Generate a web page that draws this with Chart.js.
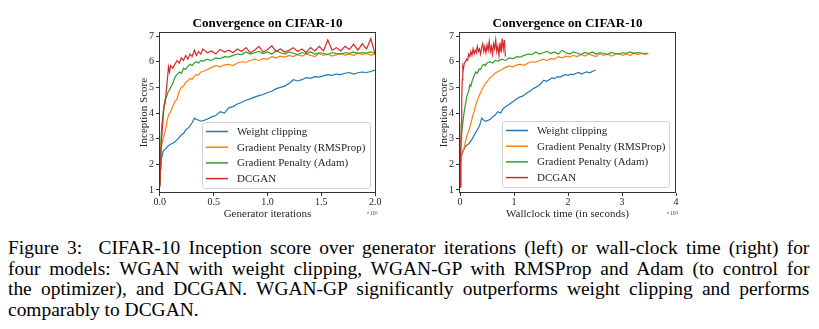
<!DOCTYPE html>
<html><head><meta charset="utf-8">
<script src="https://cdn.jsdelivr.net/npm/chart.js@4.4.1/dist/chart.umd.min.js"></script>
<style>
html,body{margin:0;padding:0;background:#fff;}
#wrap{position:relative;width:819px;height:329px;overflow:hidden;background:#fff;}
canvas{position:absolute;top:0;}
#c1{left:110px;} #c2{left:410px;}
#cap{position:absolute;left:8px;top:237.8px;width:742px;transform:scaleX(1.08);transform-origin:0 0;font-family:"Liberation Serif","Times New Roman",serif;font-size:18px;line-height:20.8px;color:#000;}
#cap div{text-align:justify;text-align-last:justify;white-space:nowrap;}
#cap div.last{text-align-last:left;}
</style>
</head><body>
<div id="wrap">
<canvas id="c1" width="290" height="228" style="width:290px;height:228px"></canvas>
<canvas id="c2" width="290" height="228" style="width:290px;height:228px"></canvas>
<div id="cap">
<div>Figure 3:&nbsp; CIFAR-10 Inception score over generator iterations (left) or wall-clock time (right) for</div>
<div>four models: WGAN with weight clipping, WGAN-GP with RMSProp and Adam (to control for</div>
<div>the optimizer), and DCGAN. WGAN-GP significantly outperforms weight clipping and performs</div>
<div class="last">comparably to DCGAN.</div>
</div>
</div>
<script>
// ---------- DATA ----------
const chartTitle = "Convergence on CIFAR-10";
const seriesNames = ["Weight clipping", "Gradient Penalty (RMSProp)", "Gradient Penalty (Adam)", "DCGAN"];
const seriesColors = ["#1f77b4", "#ff7f0e", "#2ca02c", "#d62728"];
const yTicks = [1, 2, 3, 4, 5, 6, 7];
const xTicksLeft = [0, 0.5, 1.0, 1.5, 2.0];
const xTicksRight = [0, 1, 2, 3, 4];

// Left: generator iterations (x1e5)
const iterations = [0,0.005,0.01,0.02,0.03,0.04,0.05,0.06,0.07,0.08,0.09,0.10,0.12,0.14,0.16,0.18,0.20,0.22,0.24,0.26,0.28,0.30,0.32,0.34,0.36,0.38,0.40,
0.44,0.48,0.52,0.56,0.60,0.64,0.68,0.72,0.76,0.80,0.84,0.88,0.92,0.96,1.00,1.04,1.08,1.12,1.16,1.20,1.24,1.28,1.32,1.36,1.40,1.44,1.48,1.52,1.56,1.60,1.64,1.68,1.72,1.76,1.80,1.84,1.88,1.92,1.96,2.00];
const clipIter = [1.15,1.8,2.15,2.3,2.5,2.55,2.6,2.62,2.7,2.72,2.75,2.78,2.82,2.88,2.95,3.05,3.15,3.2,3.35,3.4,3.5,3.62,3.8,3.75,3.72,3.68,3.7,
3.76,3.85,3.9,4.05,4.0,4.2,4.25,4.35,4.42,4.5,4.55,4.62,4.68,4.72,4.8,4.85,4.95,5.0,5.05,5.15,5.3,5.25,5.3,5.38,5.35,5.42,5.4,5.45,5.5,5.47,5.52,5.5,5.55,5.58,5.52,5.57,5.6,5.58,5.62,5.68];
const rmspIter = [1.2,2.2,2.5,2.8,3.0,3.15,3.3,3.5,3.75,3.9,4.0,4.05,4.25,4.45,4.55,4.85,5.0,5.05,5.2,5.25,5.35,5.32,5.45,5.5,5.48,5.6,5.62,
5.7,5.78,5.85,5.8,5.88,5.9,5.85,5.95,6.0,5.98,6.05,6.1,6.05,6.12,6.1,6.2,6.15,6.22,6.18,6.25,6.2,6.28,6.22,6.3,6.25,6.2,6.32,6.25,6.3,6.22,6.28,6.33,6.25,6.3,6.24,6.35,6.28,6.32,6.26,6.3];
const adamIter = [1.2,2.5,3.0,3.6,4.0,4.3,4.55,4.6,4.75,4.85,4.9,5.0,5.15,5.4,5.5,5.6,5.55,5.75,5.7,5.82,5.9,5.85,5.95,6.0,5.95,6.05,6.02,
6.1,6.05,6.15,6.12,6.2,6.18,6.25,6.3,6.28,6.38,6.3,6.35,6.4,6.32,6.38,6.3,6.42,6.35,6.3,6.38,6.33,6.28,6.36,6.32,6.38,6.3,6.35,6.33,6.28,6.36,6.32,6.3,6.35,6.33,6.38,6.32,6.36,6.34,6.38,6.32];
const dcganIter = [1.1,2.0,2.6,3.2,3.8,4.3,4.4,4.9,5.3,5.8,5.6,5.85,5.75,5.9,6.05,5.95,6.15,6.05,6.25,6.1,6.3,6.2,6.45,6.25,6.4,6.3,6.5,
6.35,6.42,6.3,6.48,6.38,6.45,6.35,6.5,6.4,6.55,6.35,6.45,6.6,6.38,6.48,6.62,6.4,6.5,6.38,6.45,6.55,6.4,6.5,6.36,6.55,6.42,6.6,6.42,6.85,6.45,6.55,6.42,6.6,6.48,6.68,6.45,6.7,6.5,6.9,6.3];

// Right: wallclock time (x1e4 seconds)
const wallClip = [0,0.01,0.02,0.04,0.06,0.08,0.1,0.13,0.16,0.2,0.24,0.28,0.32,0.36,0.4,0.44,0.48,0.52,0.56,0.6,0.65,0.7,0.75,0.8,0.85,0.9,0.95,1.0,1.05,1.1,1.15,1.2,1.25,1.3,1.35,1.4,1.45,1.5,1.55,1.6,1.65,1.7,1.75,1.8,1.85,1.9,1.95,2.0,2.05,2.1,2.15,2.2,2.25,2.3,2.35,2.4,2.45,2.51];
const clipWall = [1.15,2.0,2.3,2.45,2.55,2.6,2.7,2.75,2.8,2.9,3.05,3.2,3.35,3.5,3.8,3.72,3.68,3.72,3.75,3.85,3.92,4.05,4.0,4.18,4.25,4.32,4.4,4.48,4.55,4.62,4.65,4.72,4.8,4.86,4.95,5.0,5.06,5.15,5.28,5.24,5.3,5.37,5.34,5.42,5.4,5.45,5.5,5.46,5.52,5.5,5.55,5.58,5.52,5.57,5.6,5.57,5.62,5.68];
const wallRmsp = [0,0.01,0.02,0.04,0.06,0.08,0.1,0.12,0.14,0.16,0.18,0.2,0.23,0.26,0.29,0.32,0.35,0.38,0.41,0.44,0.47,0.5,0.55,0.6,0.65,0.7,
0.77,0.84,0.91,0.98,1.05,1.12,1.19,1.26,1.33,1.4,1.47,1.54,1.61,1.68,1.75,1.82,1.89,1.96,2.03,2.1,2.17,2.24,2.31,2.38,2.45,2.52,2.59,2.66,2.73,2.8,2.87,2.94,3.01,3.08,3.15,3.22,3.29,3.36,3.45];
const rmspWall = [1.2,2.1,2.3,2.4,2.5,2.7,2.9,3.05,3.2,3.3,3.45,3.6,3.85,4.05,4.3,4.5,4.65,4.8,4.95,5.05,5.15,5.22,5.36,5.45,5.55,5.62,
5.7,5.78,5.84,5.8,5.88,5.9,5.86,5.95,6.0,5.98,6.05,6.1,6.05,6.12,6.1,6.2,6.15,6.22,6.18,6.25,6.2,6.28,6.22,6.3,6.25,6.2,6.32,6.25,6.3,6.22,6.28,6.33,6.25,6.3,6.24,6.35,6.28,6.32,6.27];
const wallAdam = [0,0.01,0.02,0.04,0.06,0.08,0.1,0.12,0.14,0.16,0.18,0.2,0.23,0.26,0.29,0.32,0.35,0.38,0.41,0.44,0.47,0.5,0.55,0.6,0.65,0.7,
0.77,0.84,0.91,0.98,1.05,1.12,1.19,1.26,1.33,1.4,1.47,1.54,1.61,1.68,1.75,1.82,1.89,1.96,2.03,2.1,2.17,2.24,2.31,2.38,2.45,2.52,2.59,2.66,2.73,2.8,2.87,2.94,3.01,3.08,3.15,3.22,3.29,3.36,3.49];
const adamWall = [1.2,2.4,2.9,3.4,3.8,4.1,4.35,4.6,4.75,4.85,5.1,5.05,5.3,5.45,5.6,5.55,5.72,5.7,5.85,5.9,5.85,5.95,6.0,5.95,6.05,6.02,
6.1,6.05,6.15,6.12,6.2,6.18,6.25,6.3,6.28,6.38,6.3,6.35,6.4,6.32,6.38,6.3,6.45,6.35,6.3,6.38,6.33,6.28,6.36,6.32,6.38,6.3,6.35,6.33,6.28,6.36,6.32,6.3,6.35,6.33,6.38,6.32,6.36,6.34,6.32];
const wallDcgan = [0,0.01,0.02,0.03,0.04,0.05,0.06,0.08,0.1,0.12,0.14,0.16,0.18,0.2,0.22,0.24,0.26,0.28,0.3,0.32,0.34,0.36,0.38,0.4,0.42,0.44,0.46,0.48,0.5,0.52,0.54,0.56,0.58,0.6,0.62,0.64,0.66,0.68,0.7,0.72,0.74,0.76,0.78,0.8,0.82,0.84];
const dcganWall = [1.1,2.2,3.6,4.5,5.3,5.8,5.7,5.95,6.0,6.1,6.05,6.3,6.2,6.4,6.25,6.5,6.3,6.45,6.35,6.6,6.4,6.5,6.3,6.55,6.7,6.4,6.6,6.35,6.65,6.45,6.8,6.4,6.6,6.3,6.7,6.5,6.85,6.4,6.6,6.25,6.75,6.35,6.9,6.5,6.85,6.2];

// ---------- CHART ----------
const SERIF = "'Liberation Serif','Times New Roman',serif";
const TXT = "#262626";

const framePlugin = {
  id: 'frameLegend',
  afterDraw(chart, args, o) {
    const {ctx, chartArea: a} = chart;
    ctx.save();
    // title centred over the plot area
    ctx.font = "bold 13px " + SERIF;
    ctx.fillStyle = "#000";
    ctx.textAlign = "center";
    ctx.textBaseline = "middle";
    ctx.fillText(o.title, (a.left + a.right) / 2, 24);
    // frame (all four spines)
    ctx.strokeStyle = "#333";
    ctx.lineWidth = 1;
    ctx.strokeRect(Math.round(a.left) + 0.5, Math.round(a.top) + 0.5, Math.round(a.right - a.left) - 1, Math.round(a.bottom - a.top) - 1);
    // legend box
    const w = o.width, h = 66;
    const x = a.right - o.marginRight - w, y = a.bottom - o.marginBottom - h;
    ctx.beginPath();
    if (ctx.roundRect) ctx.roundRect(x + 0.5, y + 0.5, w, h, 3); else ctx.rect(x + 0.5, y + 0.5, w, h);
    ctx.fillStyle = "rgba(255,255,255,0.85)";
    ctx.fill();
    ctx.strokeStyle = "#d0d0d0";
    ctx.lineWidth = 1;
    ctx.stroke();
    ctx.font = "11px " + SERIF;
    ctx.textBaseline = "middle";
    ctx.textAlign = "left";
    chart.data.datasets.forEach((ds, i) => {
      const yy = y + 9.5 + i * 15.7;
      ctx.strokeStyle = ds.borderColor;
      ctx.lineWidth = 1.5;
      ctx.beginPath();
      ctx.moveTo(x + 4, yy);
      ctx.lineTo(x + 26, yy);
      ctx.stroke();
      ctx.fillStyle = TXT;
      ctx.fillText(ds.label, x + 35, yy + 0.5);
    });
    // exponent label
    ctx.font = "6px " + SERIF;
    ctx.textAlign = "center";
    ctx.fillStyle = "#444";
    ctx.fillText(o.exponent, a.right - 4, 213);
    ctx.restore();
  }
};

function makeChart(id, datasets, xMin, xMax, xTicks, xFmt, xTitle, legendW, legendMR, legendMB, exponent) {
  return new Chart(document.getElementById(id), {
    type: 'line',
    data: { datasets },
    options: {
      responsive: false,
      animation: false,
      events: [],
      layout: { padding: { left: 0, right: 24, top: 32, bottom: 0 } },
      elements: { point: { radius: 0 }, line: { borderWidth: 1.2, tension: 0 } },
      plugins: {
        legend: { display: false },
        tooltip: { enabled: false },
        title: { display: false },
        frameLegend: { title: chartTitle, width: legendW, marginRight: legendMR, marginBottom: legendMB, exponent }
      },
      scales: {
        x: {
          type: 'linear', min: xMin, max: xMax,
          afterFit: s => { s.height = 35; },
          afterBuildTicks: s => { s.ticks = xTicks.map(v => ({ value: v })); },
          ticks: { color: TXT, font: { family: SERIF, size: 10 }, padding: 0, maxRotation: 0, autoSkip: false, callback: xFmt },
          grid: { display: true, drawOnChartArea: false, drawTicks: true, tickLength: 3, color: '#333' },
          border: { display: false },
          title: { display: true, text: xTitle, color: TXT, font: { family: SERIF, size: 11 }, padding: { top: 0, bottom: 7.4 } }
        },
        y: {
          type: 'linear', min: 0.88, max: 7.16,
          afterFit: s => { s.width = 49; },
          afterBuildTicks: s => { s.ticks = yTicks.map(v => ({ value: v })); },
          ticks: { color: TXT, font: { family: SERIF, size: 10 }, padding: 2, callback: v => String(v) },
          grid: { display: true, drawOnChartArea: false, drawTicks: true, tickLength: 3, color: '#333' },
          border: { display: false },
          title: { display: true, text: 'Inception Score', color: TXT, font: { family: SERIF, size: 11 }, padding: { top: 28, bottom: 0 } }
        }
      }
    },
    plugins: [framePlugin]
  });
}

function series(xs, ys, i) {
  return {
    label: seriesNames[i],
    borderColor: seriesColors[i],
    backgroundColor: seriesColors[i],
    order: 3 - i,
    data: xs.map((x, k) => ({ x: x, y: ys[k] }))
  };
}

makeChart('c1', [
  series(iterations, clipIter, 0),
  series(iterations, rmspIter, 1),
  series(iterations, adamIter, 2),
  series(iterations, dcganIter, 3)
], -0.008, 2.008, xTicksLeft, v => v.toFixed(1), 'Generator iterations', 168, 6, 5, '×10⁵');

makeChart('c2', [
  series(wallClip, clipWall, 0),
  series(wallRmsp, rmspWall, 1),
  series(wallAdam, adamWall, 2),
  series(wallDcgan, dcganWall, 3)
], -0.02, 4.0, xTicksRight, v => String(v), 'Wallclock time (in seconds)', 167, 7, 6, '×10⁴');
</script>
</body></html>
